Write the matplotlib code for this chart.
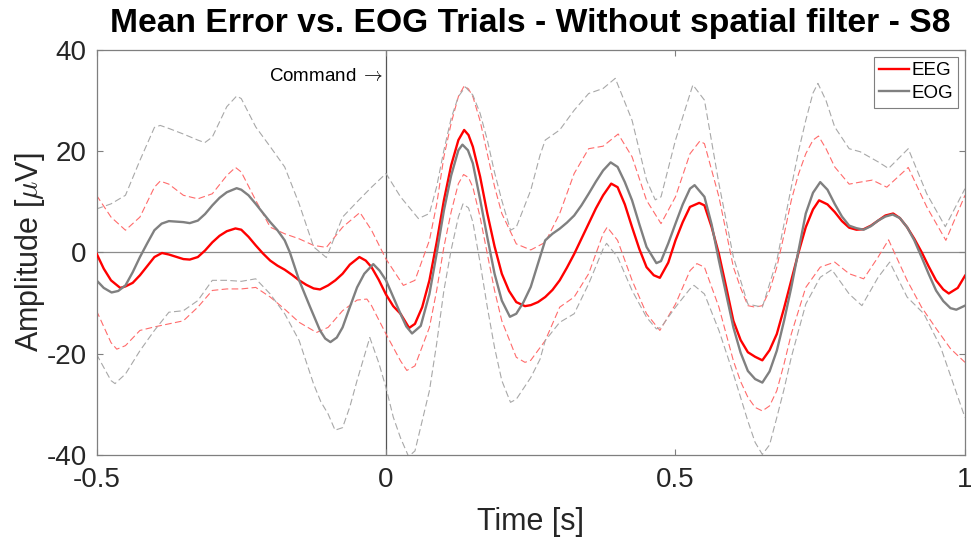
import numpy as np
import matplotlib.pyplot as plt

plt.rcParams['font.family'] = ['Liberation Sans', 'DejaVu Sans']
plt.rcParams['mathtext.fontset'] = 'cm'
plt.rcParams['axes.unicode_minus'] = False

# grand-average error potential (mean) and its +/- spread, EEG vs EOG
t_eeg = [-0.5, -0.4875, -0.475, -0.459, -0.45, -0.4375, -0.425, -0.4125, -0.4, -0.387, -0.375,
         -0.35, -0.339, -0.325, -0.3125, -0.3, -0.2875, -0.275, -0.26, -0.25, -0.2375, -0.225,
         -0.2125, -0.2, -0.1875, -0.175, -0.1625, -0.15, -0.1375, -0.125, -0.114, -0.1, -0.0875,
         -0.075, -0.0625, -0.046, -0.035, -0.025, -0.0125, 0.0, 0.0125, 0.025, 0.04, 0.05, 0.0625,
         0.075, 0.0875, 0.1, 0.1125, 0.125, 0.135, 0.1425, 0.15, 0.1625, 0.175, 0.1875, 0.2,
         0.2125, 0.225, 0.24, 0.25, 0.2625, 0.275, 0.2875, 0.3, 0.3125, 0.325, 0.3375, 0.35,
         0.3625, 0.375, 0.389, 0.4, 0.4125, 0.425, 0.4375, 0.45, 0.4625, 0.473, 0.4875, 0.5,
         0.5125, 0.525, 0.541, 0.55, 0.5625, 0.575, 0.5875, 0.6, 0.6125, 0.625, 0.6375, 0.65,
         0.6625, 0.675, 0.6875, 0.7, 0.7125, 0.725, 0.7375, 0.748, 0.7625, 0.775, 0.7875, 0.8,
         0.8125, 0.825, 0.8375, 0.85, 0.8625, 0.876, 0.8875, 0.9, 0.9125, 0.925, 0.9375, 0.95,
         0.9625, 0.972, 0.9875, 1.0]
eeg = [-0.2, -3.2, -5.5, -7.0, -6.7, -6.0, -4.5, -2.7, -0.9, -0.1, -0.4,
       -1.3, -1.4, -0.9, 0.4, 2.0, 3.3, 4.2, 4.75, 4.5, 3.1, 1.4,
       -0.2, -1.6, -2.6, -3.4, -4.4, -5.5, -6.4, -7.1, -7.3, -6.5, -5.5,
       -4.2, -2.4, -0.9, -1.6, -2.9, -5.4, -8.3, -10.6, -12.1, -14.9, -14.1, -10.8,
       -5.5, 2.0, 10.3, 17.2, 22.2, 24.2, 23.2, 20.9, 15.0, 7.7, 1.2, -4.2,
       -7.6, -9.8, -10.6, -10.4, -9.8, -8.8, -7.4, -5.5, -3.0, -0.3, 2.7, 5.7,
       8.7, 11.3, 13.6, 12.9, 9.5, 5.0, 0.7, -2.9, -4.5, -5.0, -2.0, 2.4,
       6.0, 9.0, 9.8, 9.3, 5.0, -0.3, -6.8, -13.5, -17.3, -19.7, -20.6, -21.3,
       -19.3, -16.1, -11.0, -5.5, 0.0, 5.0, 8.5, 10.3, 9.5, 8.0, 6.2, 4.9,
       4.5, 4.6, 5.3, 6.3, 7.3, 7.7, 6.8, 5.0, 2.7, 0.1, -2.8, -5.5,
       -7.3, -8.1, -7.0, -4.6]

t_eog = [-0.5, -0.4875, -0.474, -0.4625, -0.45, -0.4375, -0.425, -0.4125, -0.4, -0.3875, -0.375,
         -0.35, -0.339, -0.325, -0.3125, -0.3, -0.2875, -0.275, -0.258, -0.25, -0.2375, -0.225,
         -0.2125, -0.2, -0.1875, -0.175, -0.166, -0.15, -0.14, -0.131, -0.114, -0.105, -0.096,
         -0.085, -0.075, -0.0625, -0.05, -0.0375, -0.022, -0.011, 0.0, 0.0125, 0.025, 0.035,
         0.045, 0.06, 0.075, 0.0875, 0.1, 0.1125, 0.125, 0.132, 0.1415, 0.15, 0.1625, 0.175,
         0.1875, 0.2, 0.214, 0.225, 0.2375, 0.25, 0.266, 0.275, 0.2875, 0.3, 0.3125, 0.325,
         0.3375, 0.35, 0.3625, 0.375, 0.388, 0.4, 0.4125, 0.425, 0.4375, 0.45, 0.467, 0.475,
         0.4875, 0.5, 0.5125, 0.525, 0.533, 0.55, 0.5625, 0.575, 0.5875, 0.6, 0.6125, 0.625,
         0.6375, 0.65, 0.6625, 0.675, 0.6875, 0.7, 0.7125, 0.725, 0.7375, 0.75, 0.7625, 0.775,
         0.7875, 0.8, 0.8125, 0.825, 0.8375, 0.85, 0.8625, 0.875, 0.8875, 0.9, 0.9125, 0.925,
         0.9375, 0.95, 0.9625, 0.975, 0.985, 1.0]
eog = [-5.5, -7.0, -7.9, -7.6, -6.5, -3.9, -0.9, 1.8, 4.4, 5.7, 6.2,
       6.0, 5.8, 6.3, 7.6, 9.3, 10.8, 11.9, 12.7, 12.4, 11.3, 9.6,
       7.8, 6.0, 4.4, 2.4, 0.0, -5.5, -8.3, -10.8, -15.4, -17.0, -17.7,
       -16.8, -14.8, -10.8, -6.9, -4.2, -2.3, -3.6, -5.5, -8.8, -12.1, -14.6,
       -16.0, -14.5, -8.2, -0.2, 8.3, 15.2, 20.2, 21.3, 20.2, 17.6, 10.5, 3.0,
       -4.2, -9.5, -12.7, -12.1, -9.8, -6.8, -0.9, 2.4, 3.7, 4.7, 5.9, 7.3,
       9.3, 11.6, 14.0, 16.2, 17.8, 16.9, 13.9, 10.3, 5.6, 1.1, -2.1, -1.7,
       1.8, 5.7, 9.5, 12.6, 13.3, 11.0, 5.5, -1.6, -8.2, -14.8, -19.8, -23.4,
       -25.0, -25.7, -23.5, -19.4, -13.5, -6.9, 0.4, 7.7, 11.8, 13.9, 12.4, 9.6,
       7.1, 5.3, 4.8, 4.5, 5.2, 6.3, 7.1, 7.5, 6.8, 5.0, 2.4, -0.9,
       -4.3, -7.5, -9.6, -11.0, -11.3, -10.5]

t_eeg_hi = [-0.5, -0.475, -0.45, -0.425, -0.4, -0.39, -0.375, -0.35, -0.325, -0.3, -0.275, -0.26,
            -0.25, -0.225, -0.2, -0.175, -0.15, -0.125, -0.103, -0.075, -0.045, -0.025, 0.0, 0.03,
            0.05, 0.075, 0.0875, 0.1, 0.1125, 0.125, 0.135, 0.1425, 0.15, 0.1625, 0.175, 0.1875,
            0.2, 0.225, 0.25, 0.275, 0.3, 0.325, 0.35, 0.375, 0.401, 0.425, 0.45, 0.475, 0.5,
            0.525, 0.542, 0.55, 0.575, 0.6, 0.6125, 0.625, 0.6375, 0.65, 0.6625, 0.675, 0.6875,
            0.7, 0.7125, 0.725, 0.7375, 0.747, 0.76, 0.775, 0.8, 0.819, 0.84, 0.865, 0.902, 0.934,
            0.967, 1.0]
eeg_hi = [11.3, 7.0, 4.4, 7.0, 12.9, 14.1, 13.5, 11.3, 10.6, 11.6, 15.2, 16.8,
          15.9, 10.3, 5.0, 3.7, 2.7, 1.4, 1.0, 5.0, 7.9, 4.4, -1.3, -6.5,
          -5.5, 2.4, 9.5, 18.9, 25.5, 30.8, 32.9, 32.3, 30.8, 26.0, 19.5, 13.0,
          7.7, 1.7, 0.5, 2.0, 7.7, 15.6, 20.5, 21.0, 23.4, 18.9, 10.3, 5.7, 11.0,
          19.5, 22.0, 21.5, 11.0, -2.9, -7.0, -10.5, -10.8, -10.5, -7.5, -2.9, 3.5,
          10.3, 15.5, 19.5, 22.2, 23.0, 20.5, 16.9, 13.5, 13.9, 14.3, 12.9, 16.8, 9.0,
          2.4, 11.3]

t_eeg_lo = [-0.5, -0.475, -0.465, -0.45, -0.425, -0.4, -0.375, -0.35, -0.325, -0.3, -0.275, -0.25,
            -0.225, -0.2, -0.175, -0.15, -0.12, -0.1, -0.075, -0.05, -0.033, -0.025, 0.0, 0.025,
            0.036, 0.05, 0.075, 0.0875, 0.1, 0.1125, 0.125, 0.134, 0.1425, 0.15, 0.1625, 0.175,
            0.1875, 0.2, 0.225, 0.24, 0.25, 0.275, 0.3, 0.325, 0.35, 0.375, 0.382, 0.4, 0.425,
            0.45, 0.473, 0.5, 0.525, 0.537, 0.55, 0.575, 0.6, 0.6125, 0.625, 0.6375, 0.65, 0.6625,
            0.675, 0.6875, 0.7, 0.725, 0.75, 0.775, 0.8, 0.825, 0.85, 0.868, 0.9, 0.925, 0.95,
            0.975, 1.0]
eeg_lo = [-11.5, -17.8, -19.1, -18.4, -15.4, -14.7, -14.1, -13.5, -10.8, -7.5, -7.2, -7.2,
          -6.9, -8.8, -11.2, -13.8, -15.8, -14.8, -11.5, -9.4, -9.2, -10.5, -16.1, -21.4,
          -23.3, -22.4, -14.8, -7.5, 1.1, 8.0, 13.6, 15.4, 14.8, 12.9, 7.0, -0.3,
          -7.5, -13.5, -20.7, -21.7, -21.3, -17.4, -10.8, -8.8, -4.2, 3.7, 5.0, 2.4, -5.5,
          -12.1, -15.4, -10.2, -3.6, -2.2, -2.9, -10.8, -21.4, -25.5, -28.6, -30.6, -31.3, -30.3,
          -27.3, -22.0, -16.1, -6.9, -2.9, -1.9, -4.2, -5.2, -0.9, 2.5, -5.5, -10.8, -15.0,
          -19.0, -21.7]

t_eog_hi = [-0.5, -0.475, -0.45, -0.425, -0.4, -0.39, -0.375, -0.35, -0.325, -0.313, -0.3, -0.275,
            -0.258, -0.25, -0.225, -0.2, -0.175, -0.15, -0.125, -0.103, -0.075, -0.05, -0.025, 0.0,
            0.025, 0.056, 0.075, 0.0875, 0.1, 0.1125, 0.125, 0.137, 0.15, 0.1625, 0.175, 0.1875,
            0.2, 0.215, 0.225, 0.25, 0.266, 0.275, 0.3, 0.325, 0.35, 0.375, 0.396, 0.425, 0.45,
            0.465, 0.475, 0.5, 0.53, 0.55, 0.575, 0.6, 0.625, 0.65, 0.675, 0.7, 0.7125, 0.725,
            0.7375, 0.746, 0.76, 0.775, 0.8, 0.819, 0.85, 0.868, 0.902, 0.934, 0.966, 1.0]
eog_hi = [8.6, 9.6, 11.3, 18.2, 24.7, 25.1, 24.5, 23.4, 22.2, 21.7, 22.8, 28.8,
          30.9, 30.4, 24.8, 20.9, 16.9, 9.6, 1.1, -1.0, 7.0, 10.0, 12.9, 15.6,
          11.0, 6.7, 7.7, 13.0, 20.2, 26.5, 30.8, 32.7, 31.1, 27.5, 22.2, 15.8,
          10.3, 4.4, 5.0, 12.3, 19.2, 22.2, 24.2, 28.1, 31.4, 32.4, 34.4, 26.1, 14.3,
          10.4, 11.0, 22.2, 33.1, 30.1, 13.6, -0.9, -10.2, -10.8, -1.6, 12.9, 20.0, 26.1,
          31.5, 33.4, 30.0, 24.8, 20.5, 19.9, 17.9, 16.6, 20.5, 11.6, 5.1, 12.6]

t_eog_lo = [-0.5, -0.475, -0.468, -0.45, -0.425, -0.4, -0.375, -0.35, -0.325, -0.3, -0.275, -0.25,
            -0.225, -0.2, -0.175, -0.15, -0.125, -0.1125, -0.1, -0.088, -0.075, -0.0625, -0.05,
            -0.028, -0.0125, 0.0, 0.0125, 0.025, 0.039, 0.05, 0.075, 0.0875, 0.1, 0.1125, 0.125,
            0.133, 0.1425, 0.15, 0.1625, 0.175, 0.1875, 0.2, 0.215, 0.225, 0.25, 0.266, 0.275,
            0.3, 0.325, 0.35, 0.375, 0.381, 0.4, 0.425, 0.45, 0.467, 0.475, 0.5, 0.525, 0.532,
            0.55, 0.575, 0.6, 0.625, 0.6375, 0.65, 0.6625, 0.675, 0.6875, 0.7, 0.725, 0.75, 0.77,
            0.8, 0.822, 0.85, 0.87, 0.9, 0.929, 0.958, 0.98, 1.0]
eog_lo = [-20.1, -25.3, -25.9, -24.0, -19.4, -15.4, -11.8, -11.5, -9.5, -5.5, -5.5, -5.7,
          -5.2, -8.2, -12.1, -17.4, -26.0, -29.5, -31.9, -35.1, -34.6, -30.5, -25.3,
          -16.8, -21.8, -26.7, -32.5, -36.6, -40.3, -39.2, -27.3, -18.0, -7.5, 0.5, 7.0,
          9.6, 8.8, 6.0, -2.0, -10.8, -18.8, -25.3, -29.6, -29.0, -24.7, -21.1, -17.4,
          -13.8, -12.1, -6.2, 0.7, 1.8, -0.9, -7.5, -12.8, -15.1, -14.8, -10.8, -7.2, -6.5,
          -8.2, -15.4, -24.0, -33.3, -37.5, -39.9, -38.0, -32.6, -27.0, -20.7, -10.2, -4.9, -3.4,
          -8.2, -10.5, -4.9, -1.9, -8.8, -12.1, -18.7, -26.0, -32.6]

x_ticks = [-0.5, 0, 0.5, 1]
x_ticklabels = ['-0.5', '0', '0.5', '1']
y_ticks = [-40, -20, 0, 20, 40]

RED = '#ff0000'
GREY = '#808080'
RED_LIGHT = '#ff6b6b'
GREY_LIGHT = '#a8a8a8'

fig = plt.figure(figsize=(9.71, 5.41), dpi=100)
ax = fig.add_axes([0.0994, 0.159, 0.8944, 0.7486])

# reference lines: zero amplitude and command onset
ax.axhline(0, color='#8c8c8c', lw=0.9, zorder=1)
ax.axvline(0, color='#555555', lw=0.9, zorder=1)

dash = (0, (6, 3))
ax.plot(t_eeg_hi, eeg_hi, color=RED_LIGHT, lw=0.8, ls=dash, zorder=2)
ax.plot(t_eeg_lo, eeg_lo, color=RED_LIGHT, lw=0.8, ls=dash, zorder=2)
ax.plot(t_eog_hi, eog_hi, color=GREY_LIGHT, lw=0.8, ls=dash, zorder=2)
ax.plot(t_eog_lo, eog_lo, color=GREY_LIGHT, lw=0.8, ls=dash, zorder=2)

ax.plot(t_eeg, eeg, color=RED, lw=1.7, label='EEG', zorder=3, solid_joinstyle='round')
ax.plot(t_eog, eog, color=GREY, lw=1.7, label='EOG', zorder=4, solid_joinstyle='round')

ax.text(-0.004, 34.7, r'Command $\rightarrow$', ha='right', va='center', fontsize=13.5,
        color='black')

ax.set_xlim(-0.5, 1)
ax.set_ylim(-40, 40)
ax.set_xticks(x_ticks)
ax.set_xticklabels(x_ticklabels)
ax.set_yticks(y_ticks)
ax.tick_params(direction='in', length=4.5, width=0.8, top=True, right=True,
               labelsize=20, colors='#7f7f7f', labelcolor='#262626')
ax.tick_params(axis='x', pad=9)
ax.tick_params(axis='y', pad=7)
for sp in ax.spines.values():
    sp.set_color('#7f7f7f')
    sp.set_linewidth(0.9)

ax.set_xlabel('Time [s]', fontsize=22, color='#262626', labelpad=10)
ax.set_ylabel(r'Amplitude [$\mu$V]', fontsize=22, color='#262626', labelpad=0)
ax.set_title('Mean Error vs. EOG Trials - Without spatial filter - S8',
             fontsize=24.2, fontweight='bold', pad=13)

leg = ax.legend(loc='upper right', fontsize=13.5, handlelength=1.6, handletextpad=0.1,
                borderpad=0.3, labelspacing=0.3, fancybox=False, framealpha=1,
                borderaxespad=0.35)
leg.get_frame().set_edgecolor('#7f7f7f')
leg.get_frame().set_linewidth(0.8)

fig.savefig('out.png', dpi=100)
